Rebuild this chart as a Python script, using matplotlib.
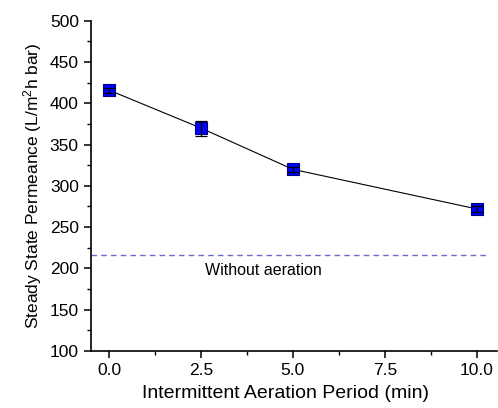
import matplotlib
matplotlib.use("Agg")
import matplotlib.pyplot as plt
from matplotlib.ticker import MultipleLocator, FormatStrFormatter

plt.rcParams['font.family'] = ['Liberation Sans', 'DejaVu Sans']
plt.rcParams['mathtext.fontset'] = 'custom'
plt.rcParams['mathtext.rm'] = 'Liberation Sans'
plt.rcParams['mathtext.it'] = 'Liberation Sans'

# data
period = [0.0, 2.5, 5.0, 10.0]
permeance = [416, 370, 320, 272]
perm_err = [3, 9, 3, 4]
no_aeration = 216

fig = plt.figure(figsize=(4.98, 4.08), dpi=100)
ax = fig.add_axes([0.182, 0.14, 0.816, 0.809])

# line + square markers, then the error bars drawn over them
ax.plot(period, permeance, color='black', lw=0.8, marker='s', markersize=8.5,
        markerfacecolor='#0000ff', markeredgecolor='#00008b',
        markeredgewidth=0.8, zorder=2)
ax.errorbar(period, permeance, yerr=perm_err, fmt='none', ecolor='black',
            elinewidth=0.9, capsize=4, capthick=0.9, zorder=3)

ax.hlines(no_aeration, -0.5, 10.25, colors='#6a6ad0', linestyles=(0, (4, 3)), lw=1.0)
ax.text(2.62, 197, 'Without aeration', fontsize=11.5, va='center', ha='left')

ax.set_xlim(-0.5, 10.55)
ax.set_ylim(100, 500)
ax.xaxis.set_major_locator(MultipleLocator(2.5))
ax.xaxis.set_minor_locator(MultipleLocator(1.25))
ax.yaxis.set_major_locator(MultipleLocator(50))
ax.yaxis.set_minor_locator(MultipleLocator(25))
ax.xaxis.set_major_formatter(FormatStrFormatter('%.1f'))

for s in ['top', 'right']:
    ax.spines[s].set_visible(False)
for s in ['left', 'bottom']:
    ax.spines[s].set_linewidth(1.2)

ax.tick_params(which='major', direction='out', length=5, width=1.1, labelsize=12.5)
ax.tick_params(which='minor', direction='out', length=3, width=1.0)

ax.set_xlabel('Intermittent Aeration Period (min)', fontsize=14)
ax.xaxis.set_label_coords(0.479, -0.103)
ax.set_ylabel(r'Steady State Permeance (L/m$^{2}$h bar)', fontsize=12.5, labelpad=4)

fig.savefig('out.png', dpi=100)
